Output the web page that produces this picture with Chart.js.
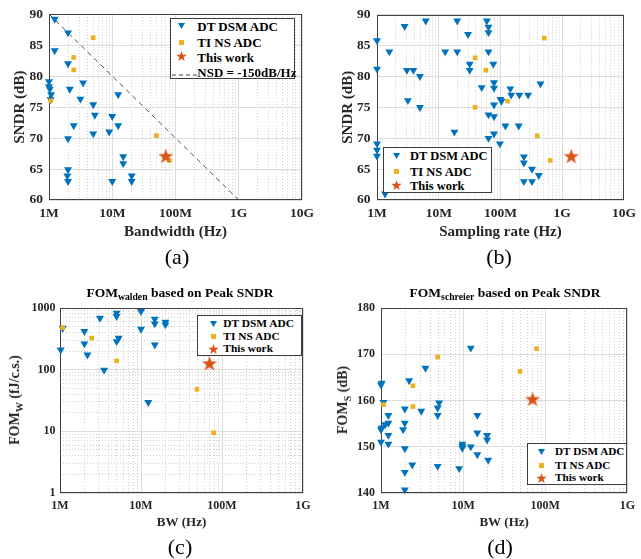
<!DOCTYPE html>
<html><head><meta charset="utf-8">
<script src="https://cdn.jsdelivr.net/npm/chart.js@4.4.1/dist/chart.umd.min.js"></script>
<style>
html,body{margin:0;padding:0;background:#fff;}
body{width:641px;height:559px;position:relative;overflow:hidden;font-family:'Liberation Serif','Times New Roman',serif;color:#262626;}
canvas{position:absolute;}
.abs{position:absolute;white-space:nowrap;}
.ctr{transform:translate(-50%,-50%);}
.rot{transform:translate(-50%,-50%) rotate(-90deg);}
.b{font-weight:bold;}
.leg{position:absolute;background:#fff;border:1px solid #3c3c3c;box-sizing:border-box;}
sub{font-size:72%;vertical-align:-0.35em;line-height:0;}
.cap{position:absolute;font-size:22px;color:#000;transform:translate(-50%,-50%);line-height:1;}
</style></head><body>
<canvas id="ca" width="320" height="270" style="left:0;top:0"></canvas>
<canvas id="cb" width="321" height="270" style="left:320px;top:0"></canvas>
<canvas id="cc" width="320" height="289" style="left:0;top:270px"></canvas>
<canvas id="cd" width="321" height="289" style="left:320px;top:270px"></canvas>

<div class="abs ctr b" style="left:180px;top:293px;font-size:13.5px;color:#000">FOM<sub>walden</sub> based on Peak SNDR</div>
<div class="abs ctr b" style="left:505px;top:293px;font-size:13.5px;color:#000">FOM<sub>schreier</sub> based on Peak SNDR</div>
<div class="abs rot b" style="left:15px;top:400px;font-size:14px">FOM<sub>W</sub> (fJ/c.s.)</div>
<div class="abs rot b" style="left:343px;top:400px;font-size:14px">FOM<sub>S</sub> (dB)</div>
<div class="cap" style="left:177px;top:257px">(a)</div>
<div class="cap" style="left:499px;top:257px">(b)</div>
<div class="cap" style="left:180px;top:547px">(c)</div>
<div class="cap" style="left:500px;top:547px">(d)</div>

<script>
const MHZ = 1e6;
const seriesNames = ['DT DSM ADC', 'TI NS ADC', 'This work'];
const nsdName = 'NSD = -150dB/Hz';

// ---------- (a) SNDR vs bandwidth (MHz, dB) ----------
const aDtBw   = [1.23, 2, 1.23, 2, 1, 1, 1.03, 1.08, 1.06, 2.13, 3.46, 3.14, 5, 5.3, 2.46, 2, 5, 10, 12.4, 12.4, 8.95, 14.9, 14.9, 10, 20.3, 20.3, 2, 1.95, 2];
const aDtSndr = [89.2, 87, 84.1, 82, 79.1, 78.3, 77.9, 77, 76.2, 77.9, 78.9, 76.3, 75.4, 73.7, 72, 69.9, 70.7, 73.5, 77, 72, 71, 67, 65.9, 63, 63.9, 63, 64.9, 63.9, 63];
const aTiBw   = [5, 2.46, 2.46, 1.07, 50, 80];
const aTiSndr = [86.2, 83, 81, 76, 70.4, 66.4];
const aStarBw = [70];
const aStarSndr = [67];
const nsdBw   = [1, 1000];
const nsdSndr = [90, 60];

// ---------- (b) SNDR vs sampling rate (MHz, dB) ----------
const bDtFs   = [1, 1, 1.585, 2.8, 3.05, 3.89, 4.95, 3.16, 4.95, 6.16, 12.7, 19.9, 19.9, 17.9, 29.8, 31.7, 31.7, 60, 63.9, 63.9, 63.9, 76.5, 49.6, 78.5, 78.5, 78.5, 63.9, 78.5, 78.5, 63.9, 97.7, 100, 104, 144, 149, 202, 280, 444, 120, 197, 239, 239, 239, 324, 324, 417, 1, 1, 1, 1.35];
const bDtSndr = [85.8, 81.2, 84, 88.1, 81, 81, 80, 76.1, 75, 89, 84, 84, 89, 71, 86.8, 82, 81, 89, 88, 87.1, 84, 82, 78.2, 79, 78.1, 75.4, 73.8, 73.5, 70.7, 70, 69.1, 76.3, 76, 78, 77, 77, 77, 78.8, 72, 72, 67, 66, 63, 65, 63, 64, 69.1, 68.1, 67.1, 61];
const bTiFs   = [513, 38.7, 58, 38.7, 130, 393, 638];
const bTiSndr = [86.2, 83, 81, 75, 76, 70.4, 66.4];
const bStarFs = [1400];
const bStarSndr = [67];

// ---------- (c) FOM Walden vs bandwidth (MHz, fJ/c.s.) ----------
const cDtBw   = [1.02, 1.08, 2, 2, 2.18, 3.12, 3.5, 5, 5, 5, 5.3, 10, 10, 12.3, 14.8, 14.8, 14.8, 20, 20];
const cDtFom  = [210, 472, 417, 263, 174, 687, 99, 830, 732, 287, 325, 883, 455, 29.5, 662, 556, 253, 592, 535];
const cTiBw   = [1.08, 2.46, 5, 49, 79];
const cTiFom  = [480, 325, 139, 48, 9.5];
const cStarBw = [70];
const cStarFom = [124];

// ---------- (d) FOM Schreier vs bandwidth (MHz, dB) ----------
const dDtBw   = [1, 1.02, 1.07, 1, 1.02, 1.12, 1, 1.23, 1.23, 1.23, 1.23, 2.2, 1.95, 1.86, 1.95, 1.95, 1.95, 1.95, 2.4, 3.09, 3.48, 4.9, 5.1, 4.9, 4.9, 8.95, 9.8, 9.8, 9.8, 12.4, 12.4, 14.9, 14.9, 14.9, 19.6, 19.6, 20.2];
const dDtFom  = [163.4, 163.8, 159.6, 153.7, 154.1, 154.8, 151, 156.8, 155.1, 152.5, 150.6, 164.3, 155.1, 153.7, 158.2, 149.6, 144.5, 140.7, 146.1, 157.7, 167, 158.4, 159.5, 156.8, 145.8, 145.3, 150.6, 150.1, 149.7, 150, 171.35, 156.8, 153, 148.3, 152.5, 151.5, 147.1];
const dTiBw   = [1.07, 2.45, 2.45, 4.9, 49.3, 78.6];
const dTiFom  = [159.1, 163.2, 158.7, 169.4, 166.3, 171.2];
const dStarBw = [70];
const dStarFom = [160.2];

// ---------- ticks ----------
const xTickValsTop = [1e6, 1e7, 1e8, 1e9, 1e10];
const xTickLblsTop = ['1M', '10M', '100M', '1G', '10G'];
const xTickValsBot = [1e6, 1e7, 1e8, 1e9];
const xTickLblsBot = ['1M', '10M', '100M', '1G'];
const ySndrTicks = [60, 65, 70, 75, 80, 85, 90];
const yFomWVals = [1, 10, 100, 1000];
const yFomWLbls = ['1', '10', '100', '1000'];
const yFomSTicks = [140, 150, 160, 170, 180];

// ---------- styling helpers ----------
const FONT = "'Liberation Serif','Times New Roman',serif";
const BLUE = '#0072BD', YEL = '#EDB120', ORG = '#D95319';
const MAJ = '#dcdcdc', MIN = '#cfcfcf';
const pts = (xs, ys, k) => xs.map((x, i) => ({ x: x * k, y: ys[i] }));
const isMajor = v => { const l = Math.log10(v); return Math.abs(l - Math.round(l)) < 1e-9; };
function logGridTicks(min, max) {
  const out = [];
  const e0 = Math.round(Math.log10(min)), e1 = Math.round(Math.log10(max));
  for (let e = e0; e < e1; e++) for (let m = 1; m < 10; m++) out.push(m * Math.pow(10, e));
  out.push(Math.pow(10, e1));
  return out;
}
function logAxis(o) {
  return {
    type: 'logarithmic', min: o.min, max: o.max,
    afterBuildTicks: s => { s.ticks = logGridTicks(o.min, o.max).map(v => ({ value: v })); },
    afterFit: o.afterFit,
    ticks: {
      autoSkip: false, maxRotation: 0, minRotation: 0, padding: o.pad, color: '#262626',
      font: { family: FONT, size: o.size, weight: 'bold' },
      callback: v => {
        if (!isMajor(v)) return '';
        const i = o.vals.findIndex(t => Math.abs(Math.log10(t) - Math.log10(v)) < 1e-9);
        return i < 0 ? '' : o.lbls[i];
      }
    },
    grid: { drawTicks: false, lineWidth: 1, color: c => (c.tick && !isMajor(c.tick.value)) ? MIN : MAJ },
    border: { display: false, dash: c => (c.tick && !isMajor(c.tick.value)) ? [1, 2] : [] },
    title: o.title || { display: false }
  };
}
function linAxis(o) {
  return {
    type: 'linear', min: o.min, max: o.max,
    afterBuildTicks: s => { s.ticks = o.vals.map(v => ({ value: v })); },
    afterFit: o.afterFit,
    ticks: { padding: o.pad, color: '#262626', font: { family: FONT, size: o.size, weight: 'bold' } },
    grid: { drawTicks: false, lineWidth: 1, color: MAJ },
    border: { display: false },
    title: o.title || { display: false }
  };
}
function makeStar(r, color) {
  const c = document.createElement('canvas');
  const s = Math.ceil(2 * r + 2); c.width = s; c.height = s;
  const g = c.getContext('2d'); g.fillStyle = color; g.beginPath();
  for (let i = 0; i < 10; i++) {
    const rr = i % 2 ? r * 0.4 : r, a = -Math.PI / 2 + i * Math.PI / 5;
    g.lineTo(s / 2 + rr * Math.cos(a), s / 2 + rr * Math.sin(a));
  }
  g.closePath(); g.fill(); return c;
}
const STAR = makeStar(8, ORG);
function sets(dt, ti, star) {
  return [
    { label: seriesNames[2], data: star, pointStyle: STAR, pointRadius: 8, order: 0, clip: false },
    { label: seriesNames[1], data: ti, pointStyle: 'rect', pointRadius: 3.3, pointBackgroundColor: YEL, pointBorderColor: YEL, pointBorderWidth: 0, order: 1, clip: false },
    { label: seriesNames[0], data: dt, pointStyle: 'triangle', pointRotation: 180, pointRadius: 4.6, pointBackgroundColor: BLUE, pointBorderColor: BLUE, pointBorderWidth: 0, order: 2, clip: false }
  ];
}
const boxPlugin = {
  id: 'box',
  beforeDatasetsDraw(chart) {
    const { ctx, chartArea: a } = chart;
    ctx.save(); ctx.strokeStyle = '#404040'; ctx.lineWidth = 1;
    ctx.strokeRect(Math.round(a.left) + 0.5, Math.round(a.top) + 0.5, Math.round(a.right - a.left) - 1, Math.round(a.bottom - a.top) - 1);
    ctx.restore();
  }
};
function titleCfg(text, size, pad) {
  return { display: true, text, color: '#262626', font: { family: FONT, size, weight: 'bold' }, padding: pad };
}
function make(id, datasets, padding, x, y) {
  new Chart(document.getElementById(id), {
    type: 'scatter',
    data: { datasets },
    options: {
      responsive: false, animation: false, events: [],
      layout: { padding },
      plugins: { legend: { display: false }, tooltip: { enabled: false } },
      scales: { x, y }
    },
    plugins: [boxPlugin]
  });
}

// (a)
const dsA = sets(pts(aDtBw, aDtSndr, MHZ), pts(aTiBw, aTiSndr, MHZ), pts(aStarBw, aStarSndr, MHZ));
dsA.push({ label: nsdName, data: pts(nsdBw, nsdSndr, MHZ), showLine: true, borderColor: '#505050', borderWidth: 1, borderDash: [5, 4], pointRadius: 0, order: 3 });
make('ca', dsA, { left: 0, top: 13, right: 18, bottom: 0 },
  logAxis({ min: 1e6, max: 1e10, vals: xTickValsTop, lbls: xTickLblsTop, size: 13.5, pad: 5, afterFit: s => { s.height = 70; }, title: titleCfg('Bandwidth (Hz)', 15, { top: 0, bottom: 29 }) }),
  linAxis({ min: 60, max: 90, vals: ySndrTicks, size: 13.5, pad: 6, afterFit: s => { s.width = 49; }, title: titleCfg('SNDR (dB)', 15, { top: 11, bottom: 0 }) }));

// (b)
make('cb', sets(pts(bDtFs, bDtSndr, MHZ), pts(bTiFs, bTiSndr, MHZ), pts(bStarFs, bStarSndr, MHZ)), { left: 0, top: 13, right: 11, bottom: 0 },
  logAxis({ min: 1e6, max: 1e10, vals: xTickValsTop, lbls: xTickLblsTop, size: 13.5, pad: 5, afterFit: s => { s.height = 70; }, title: titleCfg('Sampling rate (Hz)', 15, { top: 0, bottom: 29 }) }),
  linAxis({ min: 60, max: 90, vals: ySndrTicks, size: 13.5, pad: 6.5, afterFit: s => { s.width = 57; }, title: titleCfg('SNDR (dB)', 15, { top: 19, bottom: 0 }) }));

// (c)
make('cc', sets(pts(cDtBw, cDtFom, MHZ), pts(cTiBw, cTiFom, MHZ), pts(cStarBw, cStarFom, MHZ)), { left: 0, top: 38, right: 17, bottom: 0 },
  logAxis({ min: 1e6, max: 1e9, vals: xTickValsBot, lbls: xTickLblsBot, size: 12, pad: 6, afterFit: s => { s.height = 66; }, title: titleCfg('BW (Hz)', 13, { top: 0, bottom: 29 }) }),
  logAxis({ min: 1, max: 1000, vals: yFomWVals, lbls: yFomWLbls, size: 12, pad: 4.5, afterFit: s => { s.width = 60; } }));

// (d)
make('cd', sets(pts(dDtBw, dDtFom, MHZ), pts(dTiBw, dTiFom, MHZ), pts(dStarBw, dStarFom, MHZ)), { left: 0, top: 38, right: 11, bottom: 0 },
  logAxis({ min: 1e6, max: 1e9, vals: xTickValsBot, lbls: xTickLblsBot, size: 12, pad: 6, afterFit: s => { s.height = 66; }, title: titleCfg('BW (Hz)', 13, { top: 0, bottom: 29 }) }),
  linAxis({ min: 140, max: 180, vals: yFomSTicks, size: 12, pad: 6, afterFit: s => { s.width = 61; } }));

// ---------- legends (HTML overlays) ----------
function starPoints(cx, cy, r) {
  const p = [];
  for (let i = 0; i < 10; i++) { const rr = i % 2 ? r * 0.4 : r, a = -Math.PI / 2 + i * Math.PI / 5; p.push((cx + rr * Math.cos(a)).toFixed(2) + ',' + (cy + rr * Math.sin(a)).toFixed(2)); }
  return p.join(' ');
}
function marker(kind, cx, cy, big) {
  const d = document.createElement('div'); d.className = 'abs';
  let w, h, inner;
  if (kind === 'tri') { w = 7; h = 6; inner = `<polygon points="0,0 7,0 3.5,6" fill="${BLUE}"/>`; }
  else if (kind === 'sq') { w = 5; h = 5; inner = `<rect x="0" y="0" width="5" height="5" fill="${YEL}"/>`; }
  else if (kind === 'star') { const r = big; w = h = 2 * r + 2; inner = `<polygon points="${starPoints(r + 1, r + 1, r)}" fill="${ORG}"/>`; }
  else { w = 25; h = 2; inner = `<line x1="0" y1="1" x2="25" y2="1" stroke="#404040" stroke-width="1" stroke-dasharray="4,3"/>`; }
  d.style.cssText = `left:${cx - w / 2}px;top:${cy - h / 2}px;width:${w}px;height:${h}px;line-height:0`;
  d.innerHTML = `<svg width="${w}" height="${h}" xmlns="http://www.w3.org/2000/svg">${inner}</svg>`;
  document.body.appendChild(d);
}
function addLegend(bx, rows, fs, mx, tx, starR) {
  const d = document.createElement('div'); d.className = 'leg';
  d.style.cssText = `left:${bx.l}px;top:${bx.t}px;width:${bx.w}px;height:${bx.h}px`;
  document.body.appendChild(d);
  rows.forEach(r => {
    marker(r.kind, r.kind === 'dash' ? bx.l + 14.5 : mx, r.y, starR);
    const t = document.createElement('div'); t.className = 'abs b';
    t.style.cssText = `left:${tx}px;top:${r.y}px;font-size:${fs}px;transform:translateY(-50%);line-height:1;color:#000`;
    t.textContent = r.text; document.body.appendChild(t);
  });
}
addLegend({ l: 170, t: 18, w: 125, h: 61 }, [
  { kind: 'tri', y: 26, text: seriesNames[0] }, { kind: 'sq', y: 42.3, text: seriesNames[1] },
  { kind: 'star', y: 56.7, text: seriesNames[2] }, { kind: 'dash', y: 71.7, text: nsdName }], 13, 181.7, 197.3, 5.5);
addLegend({ l: 383, t: 147, w: 109, h: 46 }, [
  { kind: 'tri', y: 156, text: seriesNames[0] }, { kind: 'sq', y: 171.7, text: seriesNames[1] },
  { kind: 'star', y: 185.7, text: seriesNames[2] }], 12.5, 396.7, 410, 5.5);
addLegend({ l: 197, t: 315, w: 105, h: 41 }, [
  { kind: 'tri', y: 324.3, text: seriesNames[0] }, { kind: 'sq', y: 336.7, text: seriesNames[1] },
  { kind: 'star', y: 349.3, text: seriesNames[2] }], 11.4, 213.3, 223.3, 5.5);
addLegend({ l: 527, t: 443, w: 100, h: 42 }, [
  { kind: 'tri', y: 452.3, text: seriesNames[0] }, { kind: 'sq', y: 465.7, text: seriesNames[1] },
  { kind: 'star', y: 478.3, text: seriesNames[2] }], 11.2, 541.7, 555, 5.5);
</script>
</body></html>
